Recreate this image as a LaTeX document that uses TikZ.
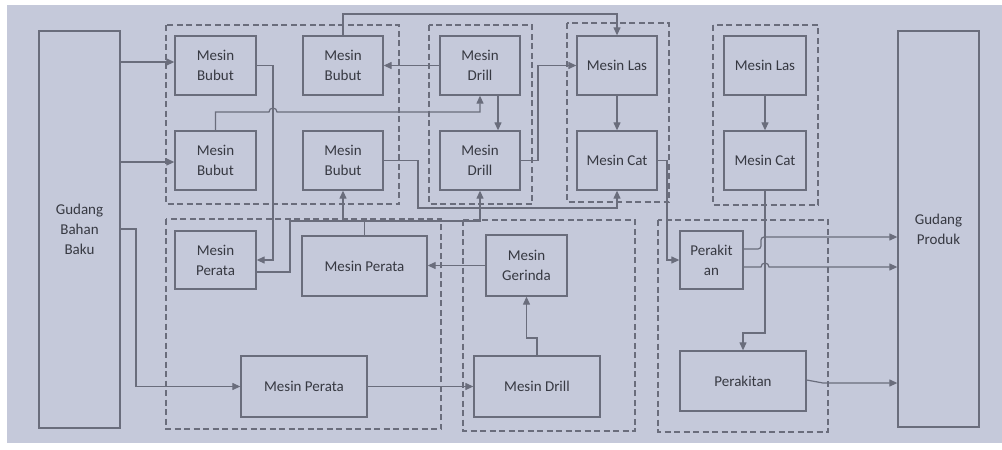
\documentclass[tikz,border=0pt]{standalone}
\usepackage{fontspec}
\setmainfont{Carlito}
\usetikzlibrary{arrows.meta}
\definecolor{bg}{RGB}{197,201,218}
\definecolor{ln}{RGB}{106,109,124}
\definecolor{tx}{RGB}{55,57,66}
\begin{document}
\begin{tikzpicture}[x=1pt,y=-1pt,
 box/.style={draw=ln, line width=1.3pt, inner sep=0pt, align=center, text=tx, font=\fontsize{15}{20}\selectfont},
 grp/.style={draw=ln, line width=1.4pt, dash pattern=on 6pt off 3.5pt},
 arr/.style={draw=ln, line width=1.2pt, -{Triangle[length=8pt,width=7pt]}},
 con/.style={draw=ln, line width=1.2pt}]
\useasboundingbox (0,0) rectangle (1002,450);
\fill[white] (0,0) rectangle (1002,450);
\fill[bg] (7,5) rectangle (1002,443);

% groups
\draw[grp] (166,25) rectangle (399,204);
\draw[grp] (429,25) rectangle (532,204);
\draw[grp] (567,23) rectangle (669,202);
\draw[grp] (713,25) rectangle (818,205);
\draw[grp] (166,219) rectangle (441,429);
\draw[grp] (463,220) rectangle (635,431);
\draw[grp] (658,220) rectangle (828,432);

% nodes
\node[box, minimum width=81pt, minimum height=397pt] (gbb) at (79.5,229.5) {Gudang\\Bahan\\Baku};
\node[box, minimum width=81pt, minimum height=396pt] (gp) at (938.5,229) {Gudang\\Produk};
\node[box, minimum width=81pt, minimum height=59pt] (b1) at (215.5,65.5) {Mesin\\Bubut};
\node[box, minimum width=80pt, minimum height=59pt] (b2) at (343,65.5) {Mesin\\Bubut};
\node[box, minimum width=81pt, minimum height=59pt] (b3) at (215.5,160.5) {Mesin\\Bubut};
\node[box, minimum width=80pt, minimum height=59pt] (b4) at (343,160.5) {Mesin\\Bubut};
\node[box, minimum width=80pt, minimum height=59pt] (d1) at (480,65.5) {Mesin\\Drill};
\node[box, minimum width=80pt, minimum height=59pt] (d2) at (480,160.5) {Mesin\\Drill};
\node[box, minimum width=80pt, minimum height=59pt] (las1) at (617,65.5) {Mesin Las};
\node[box, minimum width=80pt, minimum height=59pt] (cat1) at (617,160.5) {Mesin Cat};
\node[box, minimum width=82pt, minimum height=59pt] (las2) at (765,65.5) {Mesin Las};
\node[box, minimum width=82pt, minimum height=59pt] (cat2) at (765,160.5) {Mesin Cat};
\node[box, minimum width=81pt, minimum height=58pt] (p1) at (215.5,260) {Mesin\\Perata};
\node[box, minimum width=125pt, minimum height=60pt] (p2) at (364.5,266) {Mesin Perata};
\node[box, minimum width=126pt, minimum height=61pt] (p3) at (304,386.5) {Mesin Perata};
\node[box, minimum width=81pt, minimum height=61pt] (ger) at (526.5,265.5) {Mesin\\Gerinda};
\node[box, minimum width=126pt, minimum height=61pt] (dr3) at (537,386.5) {Mesin Drill};
\node[box, minimum width=63pt, minimum height=58pt] (rk1) at (711.5,260) {Perakit\\an};
\node[box, minimum width=126pt, minimum height=60pt] (rk2) at (743,381) {Perakitan};

% connectors
\draw[arr] (gbb.east |- 0,62) -- (b1.west |- 0,62);
\draw[arr] (gbb.east |- 0,162) -- (b3.west |- 0,162);
\draw[arr] (gbb.east |- 0,229) -- (136,229) |- (p3.west);
\draw[arr] (p3.east) -- (dr3.west);
\draw[arr] (dr3.north) -- (537,338) -| (ger.south);
\draw[arr] (ger.west) -- (p2.east |- ger.west);
\draw[arr] (p2.north) -- (p2.north |- 0,221) -| (b4.south);
\draw[arr] (b1.east) -- (b1.east -| 273,0) -- (273,260) -- (p1.east);
\draw[arr] (b3.north) -- (b3.north |- 0,112) -- (269,112) arc[start angle=180,end angle=0,radius=4pt] -- (d1.south |- 0,112) -- (d1.south);
\draw[arr] (d1.west) -- (b2.east);
\draw[arr] (b2.north) -- (b2.north |- 0,14) -| (las1.north);
\draw[arr] (d1.south -| 498,0) -- (d2.north -| 498,0);
\draw[arr] (d2.east) -- (d2.east -| 538,0) |- (las1.west);
\draw[arr] (las1) -- (cat1);
\draw[arr] (b4.east) -- (b4.east -| 418,0) -- (418,208) -| (cat1.south);
\draw[arr] (p1.east |- 0,272) -- (290,272) -- (290,221) -| (d2.south);
\draw[arr] (cat1.east) -- (cat1.east -| 667,0) |- (rk1.west);
\draw[arr] (las2) -- (cat2);
\draw[arr] (cat2.south) -- (cat2.south |- 0,333) -| (rk2.north);
\draw[arr, rounded corners=3pt] (rk1.east |- 0,249) -- (761,249) -- (761,237) -- (gp.west |- 0,237);
\draw[arr] (rk1.east |- 0,267) -- (761,267) arc[start angle=180,end angle=0,radius=4pt] -- (gp.west |- 0,267);
\draw[arr] (rk2.east |- 0,380) -- (823,383) -- (gp.west |- 0,383);
\end{tikzpicture}
\end{document}
